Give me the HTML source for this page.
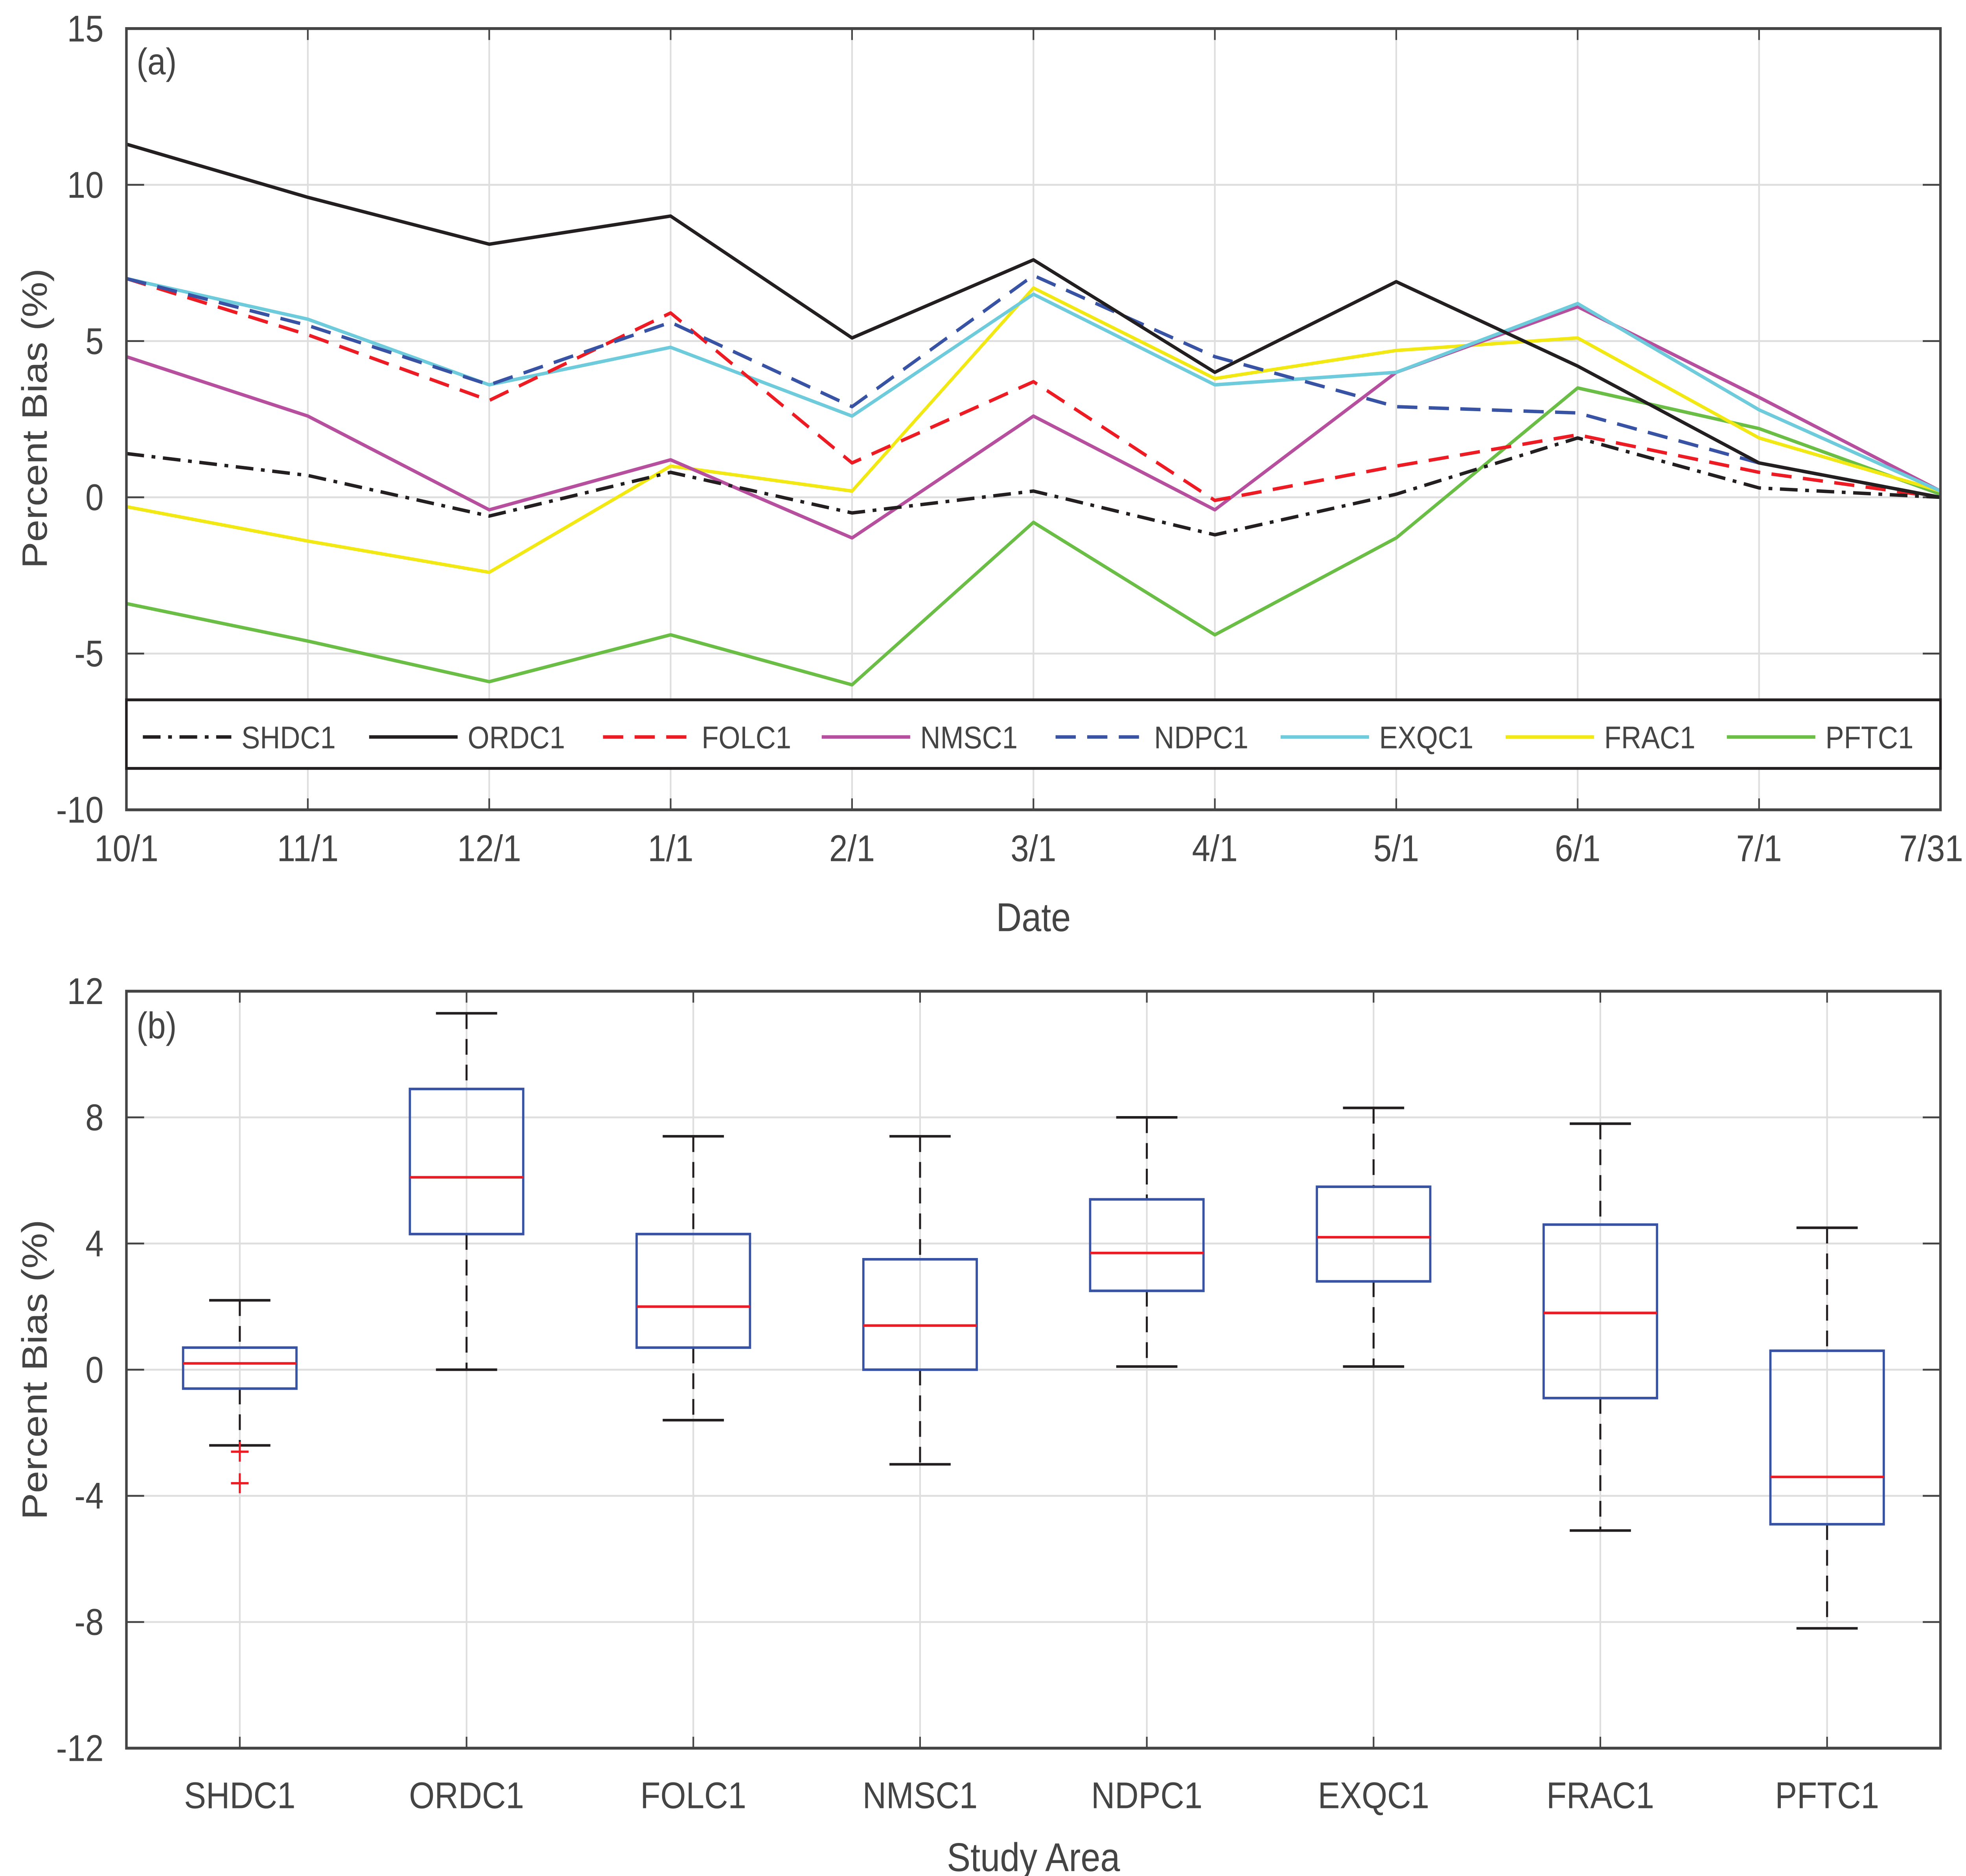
<!DOCTYPE html>
<html><head><meta charset="utf-8"><style>
html,body{margin:0;padding:0;background:#fff;width:100%;height:100%;overflow:hidden}
svg{display:block;width:100vw;height:100vh}
text{font-family:"Liberation Sans",sans-serif;fill:#444}
</style></head><body>
<svg id="fig" viewBox="0 0 1555.2 1313.5" preserveAspectRatio="none" xmlns="http://www.w3.org/2000/svg">
<g id="pa"></g>
<g id="pb"></g>
</svg>
<script>
const dates = ["10/1","11/1","12/1","1/1","2/1","3/1","4/1","5/1","6/1","7/1","7/31"];
const yTicksA = [-10,-5,0,5,10,15];
const seriesNames = ["SHDC1","ORDC1","FOLC1","NMSC1","NDPC1","EXQC1","FRAC1","PFTC1"];
const shdc1 = [1.4,0.7,-0.6,0.8,-0.5,0.2,-1.2,0.1,1.9,0.3,0];
const ordc1 = [11.3,9.6,8.1,9.0,5.1,7.6,4.0,6.9,4.2,1.1,0];
const folc1 = [7.0,5.2,3.1,5.9,1.1,3.7,-0.1,1.0,2.0,0.8,0];
const nmsc1 = [4.5,2.6,-0.4,1.2,-1.3,2.6,-0.4,4.0,6.1,3.2,0.2];
const ndpc1 = [7.0,5.5,3.6,5.6,2.9,7.1,4.5,2.9,2.7,1.1,0];
const exqc1 = [7.0,5.7,3.6,4.8,2.6,6.5,3.6,4.0,6.2,2.8,0.2];
const frac1 = [-0.3,-1.4,-2.4,1.0,0.2,6.7,3.8,4.7,5.1,1.9,0.2];
const pftc1 = [-3.4,-4.6,-5.9,-4.4,-6.0,-0.8,-4.4,-1.3,3.5,2.2,0.1];
const yTicksB = [-12,-8,-4,0,4,8,12];
const whiskLo = [-2.4,0,-1.6,-3.0,0.1,0.1,-5.1,-8.2];
const q1 = [-0.6,4.3,0.7,0,2.5,2.8,-0.9,-4.9];
const med = [0.2,6.1,2.0,1.4,3.7,4.2,1.8,-3.4];
const q3 = [0.7,8.9,4.3,3.5,5.4,5.8,4.6,0.6];
const whiskHi = [2.2,11.3,7.4,7.4,8.0,8.3,7.8,4.5];
const outliers = [[-2.6,-3.6],[],[],[],[],[],[],[]];

const NS="http://www.w3.org/2000/svg";
function mk(parent,tag,attrs,txt){const e=document.createElementNS(NS,tag);for(const k in attrs)e.setAttribute(k,attrs[k]);if(txt!==undefined)e.textContent=txt;parent.appendChild(e);return e;}

const L=100,R=1535;
// Panel A
const pa=document.getElementById('pa');
const aT=20,aB=567,aMin=-10,aMax=15;
const xa=i=>L+(R-L)*i/(dates.length-1);
const ya=v=>aB-(v-aMin)/(aMax-aMin)*(aB-aT);
dates.forEach((d,i)=>{
  const g=mk(pa,'line',{x1:xa(i),x2:xa(i),y1:aT,y2:aB,stroke:'#dedede','stroke-width':1.3});
  
  
  const last=i===dates.length-1;
  const t=mk(pa,'text',{x:last?1553:xa(i),y:603,'text-anchor':last?'end':'middle','font-size':26},d);
  
  
  for(const [a,b] of [[aT,aT+8],[aB-8,aB]]){const tk=mk(pa,'line',{x1:xa(i),x2:xa(i),y1:a,y2:b,stroke:'#444','stroke-width':1.3});
  
  }
});
yTicksA.forEach(v=>{
  const g=mk(pa,'line',{x1:L,x2:R,y1:ya(v),y2:ya(v),stroke:'#dedede','stroke-width':1.3});
  
  
  const t=mk(pa,'text',{x:82,y:ya(v)+9,'text-anchor':'end','font-size':26},String(v));
  
  
  const tk=mk(pa,'line',{x1:L,x2:L+14,y1:ya(v),y2:ya(v),stroke:'#444','stroke-width':1.3});
  
  
  const tk2=mk(pa,'line',{x1:R-14,x2:R,y1:ya(v),y2:ya(v),stroke:'#444','stroke-width':1.3});
  
  
});
const styles=[
 {c:'#231f20',d:'14 6 3 6',w:2.4},{c:'#231f20',d:'',w:2.4},{c:'#ed1c24',d:'16 9',w:2.4},{c:'#b64f9e',d:'',w:2.4},
 {c:'#3853a4',d:'16 9',w:2.4},{c:'#6dcbdc',d:'',w:2.4},{c:'#f2e914',d:'',w:2.4},{c:'#6abd45',d:'',w:2.4}];
const allSeries=[shdc1,ordc1,folc1,nmsc1,ndpc1,exqc1,frac1,pftc1];
const drawOrder=[7,6,3,5,2,4,1,0];
drawOrder.forEach(k=>{
  const s=allSeries[k];
  const p=mk(pa,'polyline',{points:s.map((v,i)=>xa(i)+','+ya(v)).join(' '),fill:'none',stroke:styles[k].c,'stroke-width':styles[k].w,'stroke-dasharray':styles[k].d,'stroke-linejoin':'round'});
  
  
});
const fa=mk(pa,'rect',{x:L,y:aT,width:R-L,height:aB-aT,fill:'none',stroke:'#444','stroke-width':2});


const la=mk(pa,'text',{x:108,y:52,'font-size':26,fill:'#231f20'},'(a)');


// legend
const lg=mk(pa,'g',{});


const lr=mk(lg,'rect',{x:L,y:490,width:R-L,height:48,fill:'#fff',stroke:'#231f20','stroke-width':2});


const legX=[113,292,477,650,835,1013,1191,1366];
seriesNames.forEach((n,k)=>{
  const e=mk(lg,'g',{});
  
  
  mk(e,'line',{x1:legX[k],x2:legX[k]+70,y1:516,y2:516,stroke:styles[k].c,'stroke-width':styles[k].w,'stroke-dasharray':styles[k].d});
  mk(e,'text',{x:legX[k]+78,y:524,'font-size':22,fill:'#231f20'},n);
});
const xta=mk(pa,'text',{x:(L+R)/2,y:652,'text-anchor':'middle','font-size':28},'Date');


const yta=mk(pa,'text',{x:0,y:0,'text-anchor':'middle','font-size':28,transform:'translate(37,293) rotate(-90)'},'Percent Bias (%)');



// Panel B
const pb=document.getElementById('pb');
const bT=694,bB=1224,bMin=-12,bMax=12;
const yb=v=>bB-(v-bMin)/(bMax-bMin)*(bB-bT);
const step=(R-L)/seriesNames.length;
const xb=i=>L+step*(i+0.5);
seriesNames.forEach((n,i)=>{
  const g=mk(pb,'line',{x1:xb(i),x2:xb(i),y1:bT,y2:bB,stroke:'#dedede','stroke-width':1.3});
  
  
  const t=mk(pb,'text',{x:xb(i),y:1266,'text-anchor':'middle','font-size':26},n);
  
  
  for(const [a,b] of [[bT,bT+8],[bB-8,bB]]){const tk=mk(pb,'line',{x1:xb(i),x2:xb(i),y1:a,y2:b,stroke:'#444','stroke-width':1.3});
  
  }
});
yTicksB.forEach(v=>{
  const g=mk(pb,'line',{x1:L,x2:R,y1:yb(v),y2:yb(v),stroke:'#dedede','stroke-width':1.3});
  
  
  const t=mk(pb,'text',{x:82,y:yb(v)+9,'text-anchor':'end','font-size':26},String(v));
  
  
  const tk=mk(pb,'line',{x1:L,x2:L+14,y1:yb(v),y2:yb(v),stroke:'#444','stroke-width':1.3});
  
  
  const tk2=mk(pb,'line',{x1:R-14,x2:R,y1:yb(v),y2:yb(v),stroke:'#444','stroke-width':1.3});
  
  
});
const bw=step*0.5,cw=step*0.27;
seriesNames.forEach((n,i)=>{
  const x=xb(i);
  const g=mk(pb,'g',{});
  
  
  mk(g,'line',{x1:x,x2:x,y1:yb(whiskHi[i]),y2:yb(q3[i]),stroke:'#231f20','stroke-width':1.6,'stroke-dasharray':'11 7'});
  mk(g,'line',{x1:x,x2:x,y1:yb(q1[i]),y2:yb(whiskLo[i]),stroke:'#231f20','stroke-width':1.6,'stroke-dasharray':'11 7'});
  mk(g,'line',{x1:x-cw/2,x2:x+cw/2,y1:yb(whiskHi[i]),y2:yb(whiskHi[i]),stroke:'#231f20','stroke-width':1.8});
  mk(g,'line',{x1:x-cw/2,x2:x+cw/2,y1:yb(whiskLo[i]),y2:yb(whiskLo[i]),stroke:'#231f20','stroke-width':1.8});
  mk(g,'rect',{x:x-bw/2,y:yb(q3[i]),width:bw,height:yb(q1[i])-yb(q3[i]),fill:'none',stroke:'#3853a4','stroke-width':1.8});
  mk(g,'line',{x1:x-bw/2,x2:x+bw/2,y1:yb(med[i]),y2:yb(med[i]),stroke:'#ed1c24','stroke-width':1.8});
  outliers[i].forEach(o=>{
    mk(g,'line',{x1:x-7,x2:x+7,y1:yb(o),y2:yb(o),stroke:'#ed1c24','stroke-width':1.6});
    mk(g,'line',{x1:x,x2:x,y1:yb(o)-7,y2:yb(o)+7,stroke:'#ed1c24','stroke-width':1.6});
  });
});
const fb=mk(pb,'rect',{x:L,y:bT,width:R-L,height:bB-bT,fill:'none',stroke:'#444','stroke-width':2});


const lb=mk(pb,'text',{x:108,y:727,'font-size':26,fill:'#231f20'},'(b)');


const xtb=mk(pb,'text',{x:(L+R)/2,y:1310,'text-anchor':'middle','font-size':28},'Study Area');


const ytb=mk(pb,'text',{x:0,y:0,'text-anchor':'middle','font-size':28,transform:'translate(37,959) rotate(-90)'},'Percent Bias (%)');


</script>
</body></html>
